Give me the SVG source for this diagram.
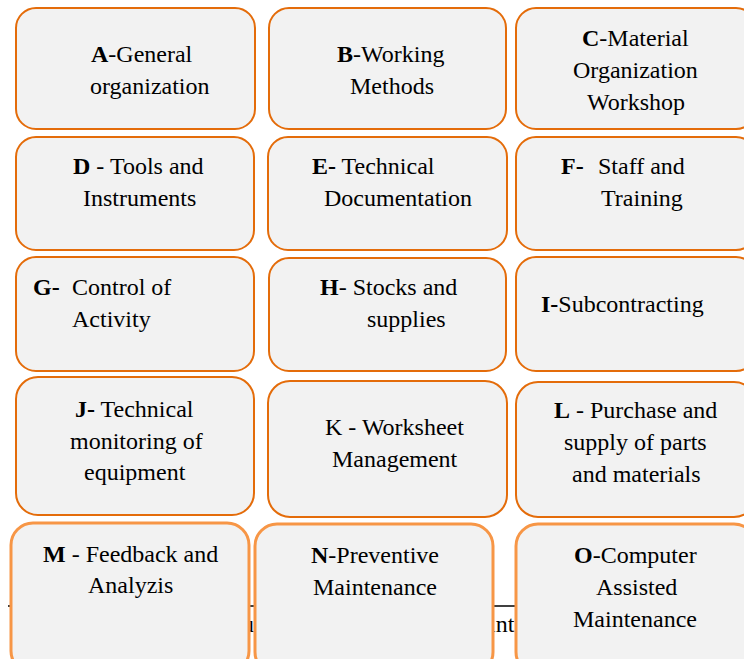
<svg xmlns="http://www.w3.org/2000/svg" width="744" height="659" viewBox="0 0 744 659">
<style>
.t{font-family:"Liberation Serif","Times New Roman",serif;font-size:24px;fill:#000}
.b{font-weight:bold}
.bx{fill:#F2F2F2;stroke:#E46C0A;stroke-width:2}
.bx2{fill:#F2F2F2;stroke:#F79646;stroke-width:3}
</style>
<rect width="744" height="659" fill="#fff"/>
<g id="background-caption">
<line x1="8" y1="606" x2="516" y2="606" stroke="#000" stroke-width="1.5"/>
<text class="t" x="242" y="632">u</text>
<text class="t" x="489" y="632">int</text>
</g>
<g id="connectors"></g>
<g id="A"><rect class="bx" x="16" y="8" width="239" height="121" rx="20"/>
<text class="t" x="91" y="62"><tspan class="b">A</tspan>-General</text>
<text class="t" x="90" y="94">organization</text></g>
<g id="B"><rect class="bx" x="269" y="8" width="237" height="121" rx="20"/>
<text class="t" x="337" y="62"><tspan class="b">B</tspan>-Working</text>
<text class="t" x="350" y="94">Methods</text></g>
<g id="C"><rect class="bx" x="516" y="8" width="240" height="121" rx="20"/>
<text class="t" x="582" y="46"><tspan class="b">C</tspan>-Material</text>
<text class="t" x="573" y="78">Organization</text>
<text class="t" x="587" y="110">Workshop</text></g>
<g id="D"><rect class="bx" x="16" y="137" width="238" height="113" rx="20"/>
<text class="t" x="73" y="174"><tspan class="b">D</tspan> - Tools and</text>
<text class="t" x="83" y="206">Instruments</text></g>
<g id="E"><rect class="bx" x="268" y="137" width="239" height="113" rx="20"/>
<text class="t" x="312" y="174"><tspan class="b">E-</tspan> Technical</text>
<text class="t" x="324" y="206">Documentation</text></g>
<g id="F"><rect class="bx" x="516" y="137" width="240" height="113" rx="20"/>
<text class="t" x="561" y="174"><tspan class="b">F-</tspan></text>
<text class="t" x="598" y="174">Staff and</text>
<text class="t" x="601" y="206">Training</text></g>
<g id="G"><rect class="bx" x="16" y="257" width="238" height="114" rx="20"/>
<text class="t b" x="33" y="295">G-</text>
<text class="t" x="72" y="295">Control of</text>
<text class="t" x="72" y="327">Activity</text></g>
<g id="H"><rect class="bx" x="269" y="258" width="237" height="113" rx="20"/>
<text class="t" x="320" y="295"><tspan class="b">H</tspan>- Stocks and</text>
<text class="t" x="367" y="327">supplies</text></g>
<g id="I"><rect class="bx" x="516" y="257" width="240" height="114" rx="20"/>
<text class="t" x="541" y="312"><tspan class="b">I-</tspan>Subcontracting</text></g>
<g id="J"><rect class="bx" x="16" y="377" width="238" height="138" rx="22"/>
<text class="t" x="75" y="417"><tspan class="b">J-</tspan> Technical</text>
<text class="t" x="70" y="449">monitoring  of</text>
<text class="t" x="84" y="480">equipment</text></g>
<g id="K"><rect class="bx" x="268" y="381" width="239" height="136" rx="22"/>
<text class="t" x="325" y="435">K - Worksheet</text>
<text class="t" x="332" y="467">Management</text></g>
<g id="L"><rect class="bx" x="516" y="382" width="240" height="135" rx="22"/>
<text class="t" x="554" y="418"><tspan class="b">L</tspan> - Purchase and</text>
<text class="t" x="564" y="450">supply of parts</text>
<text class="t" x="572" y="482">and materials</text></g>
<g id="M"><rect class="bx2" x="11" y="523" width="238" height="150" rx="22"/>
<text class="t" x="43" y="562"><tspan class="b">M</tspan> - Feedback and</text>
<text class="t" x="88" y="593">Analyzis</text></g>
<g id="N"><rect class="bx2" x="255" y="524" width="238" height="150" rx="22"/>
<text class="t" x="311" y="563"><tspan class="b">N</tspan>-Preventive</text>
<text class="t" x="313" y="595">Maintenance</text></g>
<g id="O"><rect class="bx2" x="516" y="524" width="240" height="150" rx="22"/>
<text class="t" x="574" y="563"><tspan class="b">O</tspan>-Computer</text>
<text class="t" x="596" y="595">Assisted</text>
<text class="t" x="573" y="627">Maintenance</text></g>
</svg>
